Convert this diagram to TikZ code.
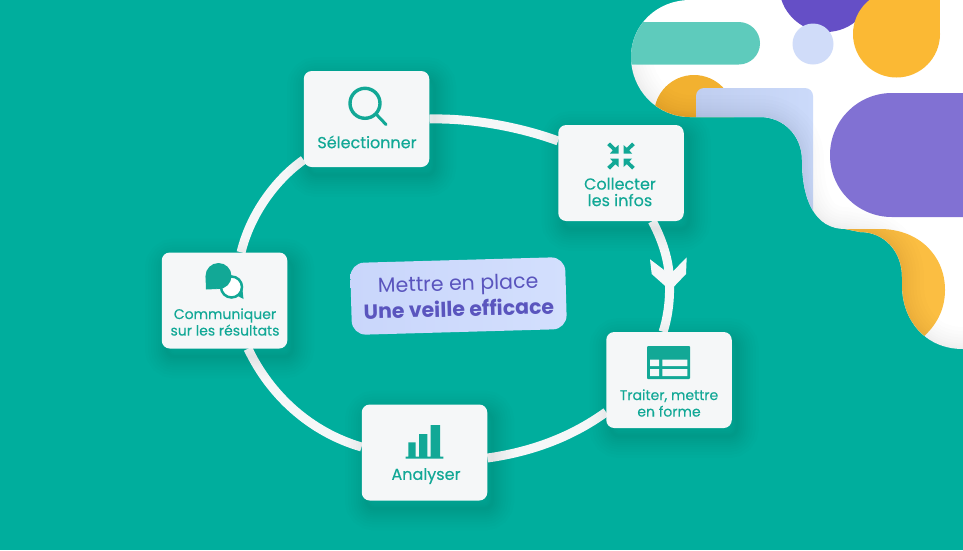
\documentclass[tikz,border=0pt]{standalone}
\usepackage{fontspec}
\setmainfont{Poppins}
\newfontfamily\medfont{Poppins}[FakeBold=0.25]
\usetikzlibrary{backgrounds,calc}
\definecolor{bgteal}{HTML}{00AE9D}
\definecolor{inkteal}{HTML}{12A896}
\definecolor{cardwhite}{HTML}{F5F7F8}
\definecolor{pilllight}{HTML}{5ECBBC}
\definecolor{orangea}{HTML}{F2B130}
\definecolor{orangeb}{HTML}{FBB934}
\definecolor{orangec}{HTML}{FBBE42}
\definecolor{bluea}{HTML}{C0CEF0}
\definecolor{blueb}{HTML}{CBDAFA}
\definecolor{bluec}{HTML}{D0DCF9}
\definecolor{purplea}{HTML}{654FC6}
\definecolor{purpleb}{HTML}{8171D3}
\definecolor{labelink}{HTML}{5A55BE}
\definecolor{labela}{HTML}{C9D6FB}
\definecolor{labelb}{HTML}{D3DFFD}
\tikzset{
  shadowstep/.style={preaction={draw=black,draw opacity=0.009,fill=none,line width=#1,
     transform canvas={xshift=5pt,yshift=-8pt}}},
  softshadow/.style={shadowstep=44pt,shadowstep=38pt,shadowstep=32pt,shadowstep=27pt,shadowstep=22pt,
     shadowstep=18pt,shadowstep=14pt,shadowstep=10pt,shadowstep=6pt,shadowstep=3pt},
  card/.style={softshadow,rectangle,rounded corners=8pt,fill=cardwhite,minimum width=125.5pt,minimum height=96pt,inner sep=0pt},
  cardtext/.style={text=inkteal,align=center,inner sep=0pt,font=\medfont\fontsize{16}{16.5}\selectfont},
  smalltext/.style={cardtext,font=\medfont\fontsize{14}{16.5}\selectfont},
  ring/.style={draw=cardwhite,line width=9pt},
  edgeshade/.style={draw=black,draw opacity=0.006,line width=#1,fill=none},
}
\def\blobedge{(690,0) .. controls (657,0) and (631,25) .. (631,57) .. controls (631,90) and (657,117) .. (690,117) -- (760,117) .. controls (784,117) and (802,136) .. (802,160) .. controls (802,200) and (815,229) .. (845,229) -- (860,232) .. controls (885,232) and (902,252) .. (902,277) -- (902,285) .. controls (902,320) and (925,349) .. (963,349)}
\def\shadeedge{(631,66) .. controls (638,95) and (660,117) .. (690,117) -- (760,117) .. controls (784,117) and (802,136) .. (802,160) .. controls (802,200) and (815,229) .. (845,229) -- (860,232) .. controls (885,232) and (902,252) .. (902,277) -- (902,285) .. controls (902,320) and (925,349) .. (963,349)}
\begin{document}
\begin{tikzpicture}[x=1pt,y=-1pt]
\useasboundingbox (0,0) rectangle (963,550);
\begin{scope}[on background layer]
  \fill[bgteal] (0,0) rectangle (963,550);
  \begin{scope}
    \clip \blobedge -- (963,0) -- cycle;
    \fill[white] (620,0) rectangle (963,350);
    \fill[orangea] (694,115) circle[radius=40];
    \shade[left color=bluea,right color=blueb,rounded corners=8pt] (696,240) -- (696,88) -- (813,88) -- (813,240) -- cycle;
    \fill[purplea] (826,-15) circle[radius=47];
    \fill[bluec] (813,44) circle[radius=20.5];
    \fill[orangeb] (896.5,-5) rectangle (940,34);
    \fill[orangeb] (896.5,34) circle[radius=43.5];
    \fill[purpleb,rounded corners=61.9pt] (830,93) rectangle (1100,217);
    \fill[orangec] (830,229) -- (880,229) .. controls (918,229) and (945,255) .. (945,290) .. controls (945,310) and (936,326) .. (922,338) -- (880,338) -- cycle;
    \foreach \w in {44,36,29,23,17,12,8,4}{\draw[edgeshade=\w pt] \shadeedge;}
    \fill[pilllight,rounded corners=21.25pt] (560,22) rectangle (760,64.5);
  \end{scope}
\end{scope}

\node[card] (sel) at (366.5,119) {};
\node[card] (col) at (621,173) {};
\node[card] (tra) at (669,380) {};
\node[card] (ana) at (424.5,452.5) {};
\node[card] (com) at (224.5,300.5) {};
\coordinate (tip) at (669.5,285);

\begin{scope}[on background layer]
  \draw[ring] (sel.east) .. controls (472,118) and (520,127) .. (col.153);
  \draw[ring] (col.303) .. controls (664,243) and (670,265) .. (tip) .. controls (670,303) and (667,320) .. (tra.97);
  \draw[ring] (tra.207.6) .. controls (570,438) and (530,452) .. (ana.355);
  \draw[ring] (ana.175) .. controls (310,432) and (270,395) .. (com.296);
  \draw[ring] (com.71.7) .. controls (250,215) and (275,180) .. (sel.213);
\end{scope}
\fill[cardwhite] (650,259.3) -- (665,270.7) -- (672.7,271.7) -- (686.7,257.3) -- (686,274) -- (673.3,287.3) -- (666,286.7) -- (651.7,274) -- cycle;

% labels
\node[cardtext] (tsel) at (367,142) {Sélectionner};
\node[cardtext] (tcol) at (620,192) {Collecter\\les infos};
\node[smalltext] (ttra) at (669,403) {Traiter, mettre\\en forme};
\node[cardtext] (tana) at (426,476) {Analyser};
\node[smalltext] (tcom) at (225,322) {Communiquer\\sur les résultats};

% central label
\node[rectangle,rounded corners=14pt,rotate=1.6,minimum width=215pt,minimum height=72pt,inner sep=0pt,
      left color=labela,right color=labelb,text=labelink,align=center,
      font=\fontsize{20.5}{26}\selectfont] (title) at (458.5,296)
  {Mettre en place\\{\bfseries Une veille efficace}};

% magnifier
\draw[inkteal,line width=3.4pt] (365,103.3) circle[radius=15];
\draw[inkteal,line width=3pt,line cap=round] (376,114) -- (386,124.5);

% compress icon
\foreach \sx/\sy in {-1/-1,1/-1,-1/1,1/1}{
  \begin{scope}[shift={(621,156)},xscale=\sx,yscale=\sy]
    \fill[inkteal] (2.5,2.5) -- (2.5,11) -- (5.7,8.2) -- (11,13.5) -- (13.8,10.8) -- (8.2,5.7) -- (11,2.5) -- cycle;
  \end{scope}
}

% table icon
\fill[inkteal,rounded corners=1pt] (647,346) rectangle (690,379);
\fill[cardwhite] (650,359.5) rectangle (659,366) (662.3,359.5) rectangle (687.3,366)
                 (650,369) rectangle (659,376) (662.3,369) rectangle (687.3,376);

% bars
\fill[inkteal] (408.3,442.3) rectangle (415.7,456.7) (419,434) rectangle (427.3,456.7)
               (430.7,425) rectangle (440,456.7) (405.7,456.7) rectangle (443.3,458.5);

% chat bubbles
\fill[inkteal] (236,295) -- (243.5,299) -- (242,286) -- cycle;
\draw[inkteal,line width=2.5pt,fill=white] (231.5,287) circle[radius=10.5];
\fill[inkteal] (218.5,276) circle[radius=13];
\fill[inkteal] (205.5,276) -- (206,289.5) -- (217,289) -- cycle;
\end{tikzpicture}
\end{document}
